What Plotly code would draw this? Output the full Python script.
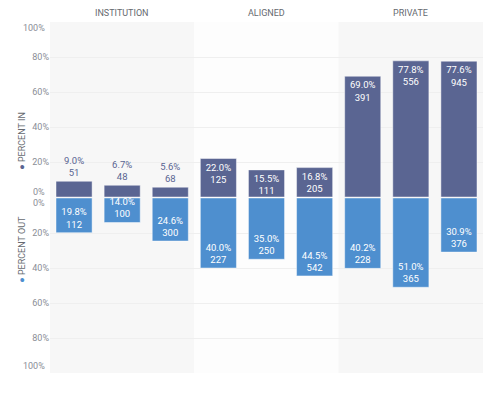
import plotly.graph_objects as go

groups = ["INSTITUTION", "ALIGNED", "PRIVATE"]
quarters = ["Q1-2019", "Q2-2019", "Q3-2019"]
tick_labels = quarters * 3

in_pct = [9.0, 6.7, 5.6, 22.0, 15.5, 16.8, 69.0, 77.8, 77.6]
in_count = [51, 48, 68, 125, 111, 205, 391, 556, 945]
out_pct = [19.8, 14.0, 24.6, 40.0, 35.0, 44.5, 40.2, 51.0, 30.9]
out_count = [112, 100, 300, 227, 250, 542, 228, 365, 376]

NAVY = "#5a6592"
BLUE = "#4e8fcf"
GRAY = "#8a8d96"
FONT = "Roboto"
TS = 9.5

xs = list(range(len(tick_labels)))

in_pos = ["outside" if p < 12 else "inside" for p in in_pct]
in_col = [NAVY if p < 12 else "white" for p in in_pct]

fig = go.Figure()
fig.add_trace(go.Bar(
    x=xs, y=[p / 100 for p in in_pct], yaxis="y",
    marker=dict(color=NAVY, line=dict(color="rgba(255,255,255,0.45)", width=1)),
    width=0.75,
    text=[f"{p:.1f}%<br>{c}" for p, c in zip(in_pct, in_count)],
    textposition=in_pos, insidetextanchor="end",
    textfont=dict(color=in_col, size=TS, family=FONT),
    cliponaxis=False, showlegend=False,
))
fig.add_trace(go.Bar(
    x=xs, y=[p / 100 for p in out_pct], yaxis="y2",
    marker=dict(color=BLUE, line=dict(color="rgba(255,255,255,0.45)", width=1)),
    width=0.75,
    text=[f"{p:.1f}%<br>{c}" for p, c in zip(out_pct, out_count)],
    textposition="inside", insidetextanchor="end",
    textfont=dict(color="white", size=TS, family=FONT),
    cliponaxis=False, showlegend=False,
))

# section backgrounds
bg = ["#f7f7f7", "#fdfdfd", "#f7f7f7"]
shapes = []
for i, c in enumerate(bg):
    shapes.append(dict(type="rect", xref="x", yref="paper", x0=i * 3 - 0.5, x1=i * 3 + 2.5,
                       y0=0, y1=1, fillcolor=c, line=dict(width=0), layer="below"))

annotations = []
for i, g in enumerate(groups):
    annotations.append(dict(text=g, xref="x", yref="paper", x=i * 3 + 1, y=1, yshift=9,
                            showarrow=False, yanchor="middle",
                            font=dict(size=9, color="#666a70", family=FONT)))

# endpoint tick labels (shifted inward)
for txt, yr, yv, sh in [("0%", "y", 0, 5), ("100%", "y", 1, -6), ("0%", "y2", 0, -5), ("100%", "y2", 1, 7)]:
    annotations.append(dict(text=txt, xref="paper", yref=yr, x=0, y=yv, xanchor="right", xshift=-3,
                            yshift=sh, showarrow=False, yanchor="middle",
                            font=dict(size=9, color=GRAY, family=FONT)))

annotations.append(dict(text=f"<span style='color:{NAVY}'>●</span> PERCENT IN", xref="paper", yref="paper",
                        x=0, xshift=-35, y=0.75, textangle=-90, showarrow=False,
                        font=dict(size=9, color="#666a70", family=FONT)))
annotations.append(dict(text=f"<span style='color:{BLUE}'>●</span> PERCENT OUT", xref="paper", yref="paper",
                        x=0, xshift=-35, y=0.25, textangle=-90, showarrow=False,
                        font=dict(size=9, color="#666a70", family=FONT)))

grid = "#efefef"
fig.update_layout(
    width=500, height=394,
    margin=dict(l=50, r=17, t=22, b=21, autoexpand=False),
    paper_bgcolor="white", plot_bgcolor="rgba(0,0,0,0)",
    font=dict(family=FONT, size=9, color=GRAY),
    bargap=0.25,
    uniformtext=dict(minsize=TS, mode="show"),
    shapes=shapes, annotations=annotations,
    xaxis=dict(tickmode="array", tickvals=xs, ticktext=tick_labels, range=[-0.5, 8.5],
               showgrid=False, zeroline=False, showline=False, ticks="", automargin=False,
               tickfont=dict(size=9, color=GRAY, family=FONT)),
    yaxis=dict(domain=[176 / 351, 1], range=[0, 1], tickvals=[0.2, 0.4, 0.6, 0.8],
               tickformat=".0%", showgrid=True, gridcolor=grid, zeroline=False, ticks="",
               automargin=False, tickfont=dict(size=9, color=GRAY, family=FONT)),
    yaxis2=dict(domain=[0, 175 / 351], range=[1, 0], tickvals=[0.2, 0.4, 0.6, 0.8],
                tickformat=".0%", showgrid=True, gridcolor=grid, zeroline=False, ticks="",
                anchor="x", automargin=False, tickfont=dict(size=9, color=GRAY, family=FONT)),
)

fig.write_html("out.html", config={"displayModeBar": False},
               post_script="document.body.style.margin='0';")
